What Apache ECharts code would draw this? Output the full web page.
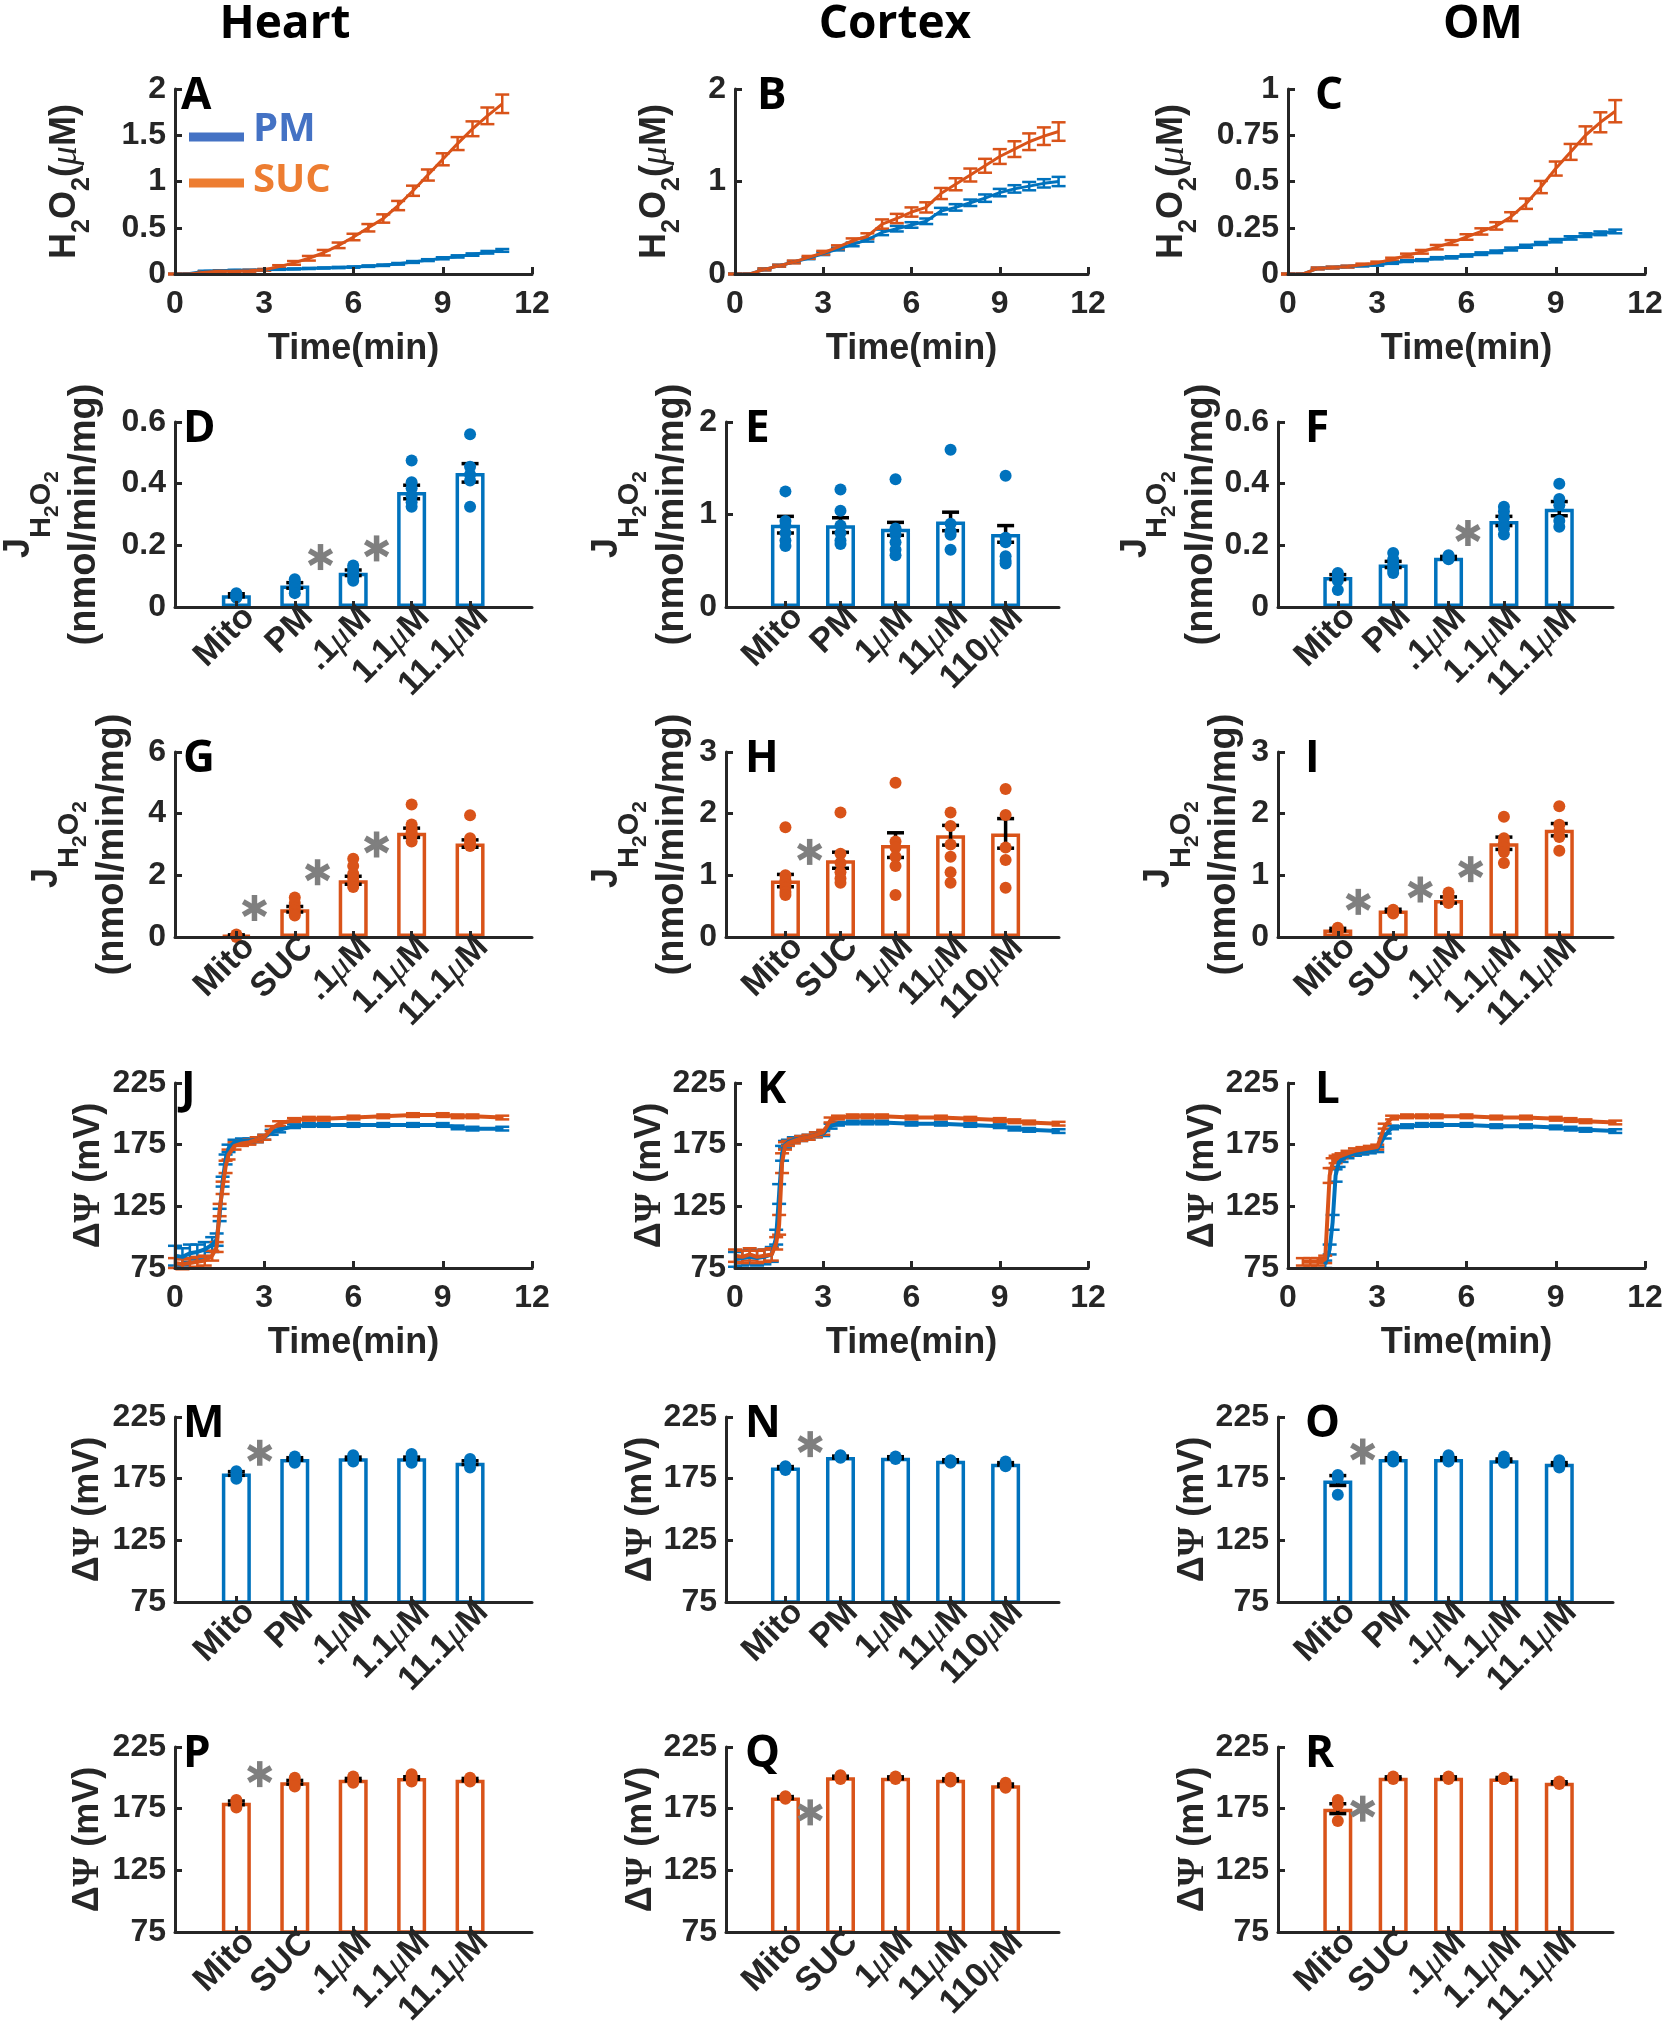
<!DOCTYPE html>
<html lang="en">
<head>
<meta charset="UTF-8" />
<title>H2O2 emission and membrane potential</title>
<style>
  html, body { margin: 0; padding: 0; background: #fff; }
  #main { width: 1667px; height: 2040px; }
</style>
</head>
<body>
<div id="main"></div>
<script src="https://cdn.jsdelivr.net/npm/echarts@6/dist/echarts.min.js"></script>
<script>
// ---------- H2O2 time courses (uM), every 0.5 min ----------
var tH2O2 = [0, 0.5, 1, 1.5, 2, 2.5, 3, 3.5, 4, 4.5, 5, 5.5, 6, 6.5, 7, 7.5, 8, 8.5, 9, 9.5, 10, 10.5, 11];

var heartPM = [0, 0.005, 0.03, 0.035, 0.04, 0.04, 0.045, 0.05, 0.055, 0.06, 0.065, 0.07, 0.075, 0.085, 0.095, 0.11, 0.13, 0.15, 0.17, 0.19, 0.21, 0.235, 0.255];
var heartPMsem = [0, 0.003, 0.005, 0.005, 0.005, 0.005, 0.005, 0.005, 0.005, 0.006, 0.006, 0.007, 0.007, 0.008, 0.008, 0.009, 0.01, 0.01, 0.011, 0.012, 0.013, 0.014, 0.015];
var heartSUC = [0, 0, 0.02, 0.03, 0.03, 0.035, 0.045, 0.08, 0.12, 0.17, 0.23, 0.31, 0.4, 0.5, 0.6, 0.74, 0.9, 1.07, 1.24, 1.41, 1.57, 1.71, 1.84];
var heartSUCsem = [0.005, 0.005, 0.01, 0.01, 0.01, 0.01, 0.01, 0.015, 0.02, 0.025, 0.03, 0.03, 0.035, 0.04, 0.045, 0.05, 0.055, 0.06, 0.065, 0.07, 0.08, 0.09, 0.1];

var cortexPM = [0, 0, 0.05, 0.09, 0.13, 0.17, 0.22, 0.27, 0.32, 0.37, 0.45, 0.49, 0.53, 0.57, 0.68, 0.72, 0.77, 0.82, 0.88, 0.92, 0.95, 0.98, 1.0];
var cortexPMsem = [0.005, 0.005, 0.01, 0.01, 0.01, 0.01, 0.015, 0.015, 0.02, 0.02, 0.03, 0.03, 0.03, 0.03, 0.035, 0.035, 0.035, 0.04, 0.04, 0.04, 0.045, 0.045, 0.05];
var cortexSUC = [0, 0, 0.05, 0.09, 0.13, 0.18, 0.23, 0.29, 0.36, 0.41, 0.54, 0.6, 0.67, 0.72, 0.87, 0.97, 1.07, 1.17, 1.27, 1.35, 1.43, 1.49, 1.54];
var cortexSUCsem = [0.005, 0.005, 0.01, 0.01, 0.015, 0.015, 0.02, 0.02, 0.025, 0.03, 0.05, 0.05, 0.05, 0.055, 0.06, 0.065, 0.07, 0.075, 0.08, 0.085, 0.09, 0.095, 0.1];

var omPM = [0, 0, 0.03, 0.035, 0.04, 0.045, 0.05, 0.06, 0.07, 0.075, 0.085, 0.09, 0.1, 0.11, 0.12, 0.135, 0.15, 0.165, 0.18, 0.195, 0.21, 0.22, 0.23];
var omPMsem = [0.002, 0.002, 0.004, 0.004, 0.004, 0.004, 0.005, 0.005, 0.005, 0.005, 0.006, 0.006, 0.006, 0.007, 0.007, 0.008, 0.008, 0.008, 0.009, 0.009, 0.01, 0.01, 0.01];
var omSUC = [0, 0, 0.03, 0.035, 0.04, 0.05, 0.06, 0.08, 0.1, 0.12, 0.145, 0.17, 0.2, 0.23, 0.26, 0.31, 0.38, 0.47, 0.57, 0.66, 0.75, 0.82, 0.88];
var omSUCsem = [0.003, 0.003, 0.005, 0.005, 0.005, 0.006, 0.007, 0.008, 0.01, 0.01, 0.012, 0.013, 0.015, 0.017, 0.02, 0.024, 0.028, 0.033, 0.038, 0.043, 0.048, 0.054, 0.06];

// ---------- membrane potential time courses (mV) ----------
var tPsi = [0, 0.25, 0.5, 0.75, 1, 1.25, 1.4, 1.5, 1.6, 1.7, 1.8, 2, 2.25, 2.5, 2.75, 3, 3.25, 3.5, 4, 4.5, 5, 6, 7, 8, 9, 9.5, 10, 11];

var psiHeartPM = [85, 84, 87, 88, 90, 94, 98, 118, 145, 163, 172, 177, 178, 178, 179, 181, 185, 187, 190, 191, 191, 191, 191, 191, 191, 189, 188, 188];
var psiHeartPMsem = [8, 7, 7, 6, 6, 6, 5, 5, 4, 4, 3, 2, 2, 2, 2, 2, 2, 2, 1.5, 1.5, 1.5, 1.5, 1.5, 1.5, 1.5, 1.5, 1.5, 1.5];
var psiHeartSUC = [79, 78, 79, 80, 81, 85, 92, 122, 140, 157, 167, 174, 176, 177, 179, 181, 188, 192, 195, 196, 196, 197, 198, 199, 199, 198, 198, 197];
var psiHeartSUCsem = [4, 4, 4, 4, 4, 4, 4, 5, 5, 5, 4, 3, 2, 2, 2, 2, 2, 2, 1.5, 1.5, 1.5, 1.5, 1.5, 1.5, 1.5, 1.5, 1.5, 1.5];

var psiCortexPM = [82, 83, 84, 83, 84, 86, 100, 135, 168, 175, 177, 179, 180, 181, 183, 184, 190, 192, 193, 193, 193, 192, 192, 191, 190, 188, 187, 186];
var psiCortexPMsem = [6, 6, 6, 6, 6, 6, 6, 8, 6, 3, 2, 2, 2, 2, 2, 2, 2, 1.5, 1.5, 1.5, 1.5, 1.5, 1.5, 1.5, 1.5, 1.5, 1.5, 1.5];
var psiCortexSUC = [85, 84, 86, 84, 85, 86, 95, 110, 160, 174, 176, 178, 180, 181, 183, 185, 195, 197, 198, 198, 198, 197, 197, 196, 195, 194, 193, 192];
var psiCortexSUCsem = [5, 5, 5, 5, 5, 5, 5, 8, 8, 3, 2, 2, 2, 2, 2, 2, 2, 1.5, 1.5, 1.5, 1.5, 1.5, 1.5, 1.5, 1.5, 1.5, 1.5, 1.5];

var psiOMPM = [null, null, null, null, null, 78, 90, 112, 150, 160, 163, 166, 168, 169, 170, 171, 182, 189, 190, 191, 191, 191, 190, 190, 189, 188, 187, 186];
var psiOMPMsem = [0, 0, 0, 0, 0, 3, 4, 6, 5, 3, 2, 2, 2, 2, 2, 2, 2, 1.5, 1.5, 1.5, 1.5, 1.5, 1.5, 1.5, 1.5, 1.5, 1.5, 1.5];
var psiOMSUC = [null, null, 80, 80, 80, 82, 150, 160, 163, 165, 166, 168, 170, 171, 172, 173, 190, 197, 198, 198, 198, 198, 197, 197, 196, 195, 194, 193];
var psiOMSUCsem = [0, 0, 3, 3, 3, 3, 6, 4, 3, 2, 2, 2, 2, 2, 2, 2, 2, 1.5, 1.5, 1.5, 1.5, 1.5, 1.5, 1.5, 1.5, 1.5, 1.5, 1.5];

// ---------- bar groups ----------
var labelsHeartPM = ['Mito', 'PM', '.1μM', '1.1μM', '11.1μM'];
var labelsCortexPM = ['Mito', 'PM', '1μM', '11μM', '110μM'];
var labelsHeartSUC = ['Mito', 'SUC', '.1μM', '1.1μM', '11.1μM'];
var labelsCortexSUC = ['Mito', 'SUC', '1μM', '11μM', '110μM'];

// D  heart, PM, JH2O2
var dMean = [0.038, 0.07, 0.111, 0.373, 0.435];
var dSem = [0.005, 0.009, 0.009, 0.022, 0.03];
var dDots = [[0.045, 0.04, 0.035, 0.03], [0.09, 0.08, 0.07, 0.06, 0.045], [0.135, 0.125, 0.115, 0.105, 0.095, 0.085], [0.475, 0.405, 0.385, 0.36, 0.34, 0.325], [0.56, 0.455, 0.43, 0.41, 0.325]];
var dStars = [[2.44, 0.162], [3.4, 0.19]];
// E  cortex, PM
var eMean = [0.89, 0.885, 0.845, 0.925, 0.79];
var eSem = [0.09, 0.08, 0.07, 0.1, 0.09];
var eDots = [[1.25, 0.93, 0.88, 0.8, 0.72, 0.66], [1.27, 1.04, 0.88, 0.8, 0.72, 0.68], [1.38, 0.85, 0.78, 0.7, 0.62, 0.56], [1.7, 0.9, 0.82, 0.78, 0.62], [1.42, 0.75, 0.7, 0.55, 0.5, 0.47]];
var eStars = [];
// F  OM, PM
var fMean = [0.097, 0.138, 0.16, 0.279, 0.319];
var fSem = [0.008, 0.01, 0.004, 0.015, 0.023];
var fDots = [[0.11, 0.105, 0.095, 0.085, 0.055], [0.175, 0.155, 0.14, 0.13, 0.12, 0.11], [0.168, 0.162, 0.158, 0.155], [0.325, 0.31, 0.29, 0.27, 0.255, 0.235], [0.4, 0.35, 0.33, 0.28, 0.26]];
var fStars = [[3.35, 0.24]];
// G  heart, SUC
var gMean = [0.05, 0.9, 1.84, 3.38, 3.03];
var gSem = [0.02, 0.09, 0.13, 0.15, 0.12];
var gDots = [[0.08, 0.04, 0.0], [1.28, 1.1, 0.95, 0.85, 0.75, 0.7], [2.54, 2.3, 2.05, 1.9, 1.75, 1.62], [4.3, 3.65, 3.5, 3.4, 3.3, 3.1], [3.95, 3.2, 3.1, 3.0, 2.95]];
var gStars = [[1.31, 0.94], [2.39, 2.1], [3.4, 3.0]];
// H  cortex, SUC
var hMean = [0.915, 1.245, 1.49, 1.65, 1.68];
var hSem = [0.1, 0.13, 0.2, 0.16, 0.24];
var hDots = [[1.78, 1.0, 0.92, 0.85, 0.8, 0.73, 0.68], [2.02, 1.35, 1.2, 1.05, 0.95, 0.88], [2.5, 1.55, 1.45, 1.3, 1.15, 0.68], [2.02, 1.8, 1.5, 1.3, 1.05, 0.88], [2.4, 1.98, 1.45, 1.25, 0.8]];
var hStars = [[1.44, 1.38]];
// I  OM, SUC
var iMean = [0.12, 0.43, 0.6, 1.52, 1.74];
var iSem = [0.02, 0.02, 0.05, 0.1, 0.1];
var iDots = [[0.15, 0.12, 0.08], [0.44, 0.4, 0.38], [0.72, 0.65, 0.58, 0.55], [1.95, 1.6, 1.52, 1.45, 1.38, 1.2], [2.12, 1.82, 1.72, 1.62, 1.4]];
var iStars = [[1.37, 0.57], [2.49, 0.77], [3.4, 1.1]];
// M  heart, PM, dPsi
var mMean = [179.2, 191, 191.5, 191.5, 188];
var mSem = [1.5, 1, 1, 1, 1.5];
var mDots = [[181, 178, 175], [193, 191, 188], [194, 192, 189], [195, 192, 188], [191, 188, 184]];
var mStars = [[1.4, 196]];
// N  cortex, PM
var nMean = [184, 192.5, 192, 189.5, 187];
var nSem = [0.8, 0.8, 0.8, 0.8, 1];
var nDots = [[185, 184, 182], [194, 193, 192], [193, 192, 191], [190, 189, 188], [189, 186, 185]];
var nStars = [[1.45, 203]];
// O  OM, PM
var oMean = [173.5, 191, 191, 190, 187];
var oSem = [4, 1, 1, 1, 1];
var oDots = [[178, 176, 162], [193, 191, 189], [194, 191, 189], [193, 190, 188], [190, 187, 184]];
var oStars = [[1.45, 197]];
// P  heart, SUC
var pMean = [179.7, 196.4, 198.5, 199.9, 198.5];
var pSem = [1.5, 1.5, 1, 1, 1];
var pDots = [[182, 180, 176], [200, 197, 193], [201, 198, 196], [203, 200, 197], [200, 198, 197]];
var pStars = [[1.4, 203]];
// Q  cortex, SUC
var qMean = [184, 200.5, 200, 198.5, 194];
var qSem = [0.8, 0.8, 0.8, 0.8, 1];
var qDots = [[185, 184, 183], [202, 200, 199], [201, 200, 199], [200, 198, 197], [196, 194, 192]];
var qStars = [[1.45, 172]];
// R  OM, SUC
var rMean = [175, 200, 200, 199.5, 196];
var rSem = [4, 0.8, 0.8, 0.8, 0.8];
var rDots = [[182, 178, 165], [201, 200, 199], [201, 200, 199], [200, 199, 199], [197, 196, 195]];
var rStars = [[1.45, 175]];

// ---------- look ----------
var INK = '#262626', BLUE = '#0072BD', ORANGE = '#D95319', STAR = '#7f7f7f';
var FONT = '"Liberation Sans", Arial, sans-serif';
var SERIF = '"Liberation Serif", "DejaVu Serif", serif';
var rowTop = [89, 422, 752, 1083, 1417, 1747], rowH = 185;
// time-course panels
var lineCols = [{left: 175, width: 357}, {left: 735, width: 353}, {left: 1288, width: 357}];
// bar panels (value x axis, bars at 1..5)
var barCols = [
  {left: 175, width: 357, min: -0.05, max: 6.06},
  {left: 726, width: 333, min: -0.08, max: 5.97},
  {left: 1278, width: 335, min: -0.08, max: 5.97}
];
var lineLetterX = [181, 757, 1315], barLetterX = [183, 745, 1305];

var panels = [
  {kind: 'line', letter: 'A', y: [0, 2, 0.5], name: 'h2o2', gap: 80, lines: [[tH2O2, heartPM, heartPMsem, BLUE], [tH2O2, heartSUC, heartSUCsem, ORANGE]]},
  {kind: 'line', letter: 'B', y: [0, 2, 1], name: 'h2o2', gap: 50, lines: [[tH2O2, cortexPM, cortexPMsem, BLUE], [tH2O2, cortexSUC, cortexSUCsem, ORANGE]]},
  {kind: 'line', letter: 'C', y: [0, 1, 0.25], name: 'h2o2', gap: 86, lines: [[tH2O2, omPM, omPMsem, BLUE], [tH2O2, omSUC, omSUCsem, ORANGE]]},
  {kind: 'bar', letter: 'D', y: [0, 0.6, 0.2], name: 'flux', gap: 68, labels: labelsHeartPM, mean: dMean, sem: dSem, dots: dDots, stars: dStars, color: BLUE},
  {kind: 'bar', letter: 'E', y: [0, 2, 1], name: 'flux', gap: 31, labels: labelsCortexPM, mean: eMean, sem: eSem, dots: eDots, stars: eStars, color: BLUE},
  {kind: 'bar', letter: 'F', y: [0, 0.6, 0.2], name: 'flux', gap: 48, labels: labelsHeartPM, mean: fMean, sem: fSem, dots: fDots, stars: fStars, color: BLUE},
  {kind: 'bar', letter: 'G', y: [0, 6, 2], name: 'flux', gap: 40, labels: labelsHeartSUC, mean: gMean, sem: gSem, dots: gDots, stars: gStars, color: ORANGE},
  {kind: 'bar', letter: 'H', y: [0, 3, 1], name: 'flux', gap: 31, labels: labelsCortexSUC, mean: hMean, sem: hSem, dots: hDots, stars: hStars, color: ORANGE},
  {kind: 'bar', letter: 'I', y: [0, 3, 1], name: 'flux', gap: 31, labels: labelsHeartSUC, mean: iMean, sem: iSem, dots: iDots, stars: iStars, color: ORANGE},
  {kind: 'line', letter: 'J', y: 'psi', name: 'psi', gap: 65, lines: [[tPsi, psiHeartPM, psiHeartPMsem, BLUE], [tPsi, psiHeartSUC, psiHeartSUCsem, ORANGE]]},
  {kind: 'line', letter: 'K', y: 'psi', name: 'psi', gap: 62, lines: [[tPsi, psiCortexPM, psiCortexPMsem, BLUE], [tPsi, psiCortexSUC, psiCortexSUCsem, ORANGE]]},
  {kind: 'line', letter: 'L', y: 'psi', name: 'psi', gap: 63, lines: [[tPsi, psiOMPM, psiOMPMsem, BLUE], [tPsi, psiOMSUC, psiOMSUCsem, ORANGE]]},
  {kind: 'bar', letter: 'M', y: 'psi', name: 'psi', gap: 66, labels: labelsHeartPM, mean: mMean, sem: mSem, dots: mDots, stars: mStars, color: BLUE},
  {kind: 'bar', letter: 'N', y: 'psi', name: 'psi', gap: 60, labels: labelsCortexPM, mean: nMean, sem: nSem, dots: nDots, stars: nStars, color: BLUE},
  {kind: 'bar', letter: 'O', y: 'psi', name: 'psi', gap: 60, labels: labelsHeartPM, mean: oMean, sem: oSem, dots: oDots, stars: oStars, color: BLUE},
  {kind: 'bar', letter: 'P', y: 'psi', name: 'psi', gap: 66, labels: labelsHeartSUC, mean: pMean, sem: pSem, dots: pDots, stars: pStars, color: ORANGE},
  {kind: 'bar', letter: 'Q', y: 'psi', name: 'psi', gap: 60, labels: labelsCortexSUC, mean: qMean, sem: qSem, dots: qDots, stars: qStars, color: ORANGE},
  {kind: 'bar', letter: 'R', y: 'psi', name: 'psi', gap: 60, labels: labelsHeartSUC, mean: rMean, sem: rSem, dots: rDots, stars: rStars, color: ORANGE}
];

var psiTicks = [75, 125, 175, 225];
var catTicks = [1, 2, 3, 4, 5];
var catLabelAt = [1.22, 2.22, 3.22, 4.22, 5.22];

function bold(size, extra) {
  var s = {fontSize: size, fontWeight: 'bold', fontFamily: FONT, color: INK};
  for (var k in extra) s[k] = extra[k];
  return s;
}

var yNames = {
  h2o2: {
    text: '{a|H}{s|2}{a|O}{s|2}{a|(}{m|μ}{a|M)}',
    rich: {
      a: bold(36, {lineHeight: 48, verticalAlign: 'top'}),
      s: bold(25, {verticalAlign: 'bottom'}),
      m: {fontSize: 38, fontStyle: 'italic', fontFamily: SERIF, color: INK, verticalAlign: 'top'}
    }
  },
  flux: {
    text: '{j|J}{s|H}{ss|2}{s|O}{ss|2}\n{p|(nmol/min/mg)}',
    rich: {
      j: bold(36, {lineHeight: 62, verticalAlign: 'top'}),
      s: bold(29, {verticalAlign: 'bottom', padding: [0, 0, 7, 0]}),
      ss: bold(21, {verticalAlign: 'bottom'}),
      p: bold(38, {lineHeight: 44})
    }
  },
  psi: {
    text: '{a|Δ}{g|Ψ}{a| (mV)}',
    rich: {
      a: bold(36, {lineHeight: 42}),
      g: {fontSize: 38, fontWeight: 'bold', fontFamily: SERIF, color: INK, lineHeight: 42}
    }
  }
};

function catLabel(str) {
  var parts = str.split('μ');
  if (parts.length < 2) return '{n|' + str + '}';
  return (parts[0] ? '{n|' + parts[0] + '}' : '') + '{m|μ}{n|' + parts[1] + '}';
}

function errRender(capW, lw, color) {
  return function (params, api) {
    var x = api.value(0), m = api.value(1), e = api.value(2);
    var top = api.coord([x, m + e]), bot = api.coord([x, m - e]);
    var st = {stroke: color, lineWidth: lw};
    return {
      type: 'group',
      children: [
        {type: 'line', shape: {x1: top[0], y1: top[1], x2: bot[0], y2: bot[1]}, style: st},
        {type: 'line', shape: {x1: top[0] - capW / 2, y1: top[1], x2: top[0] + capW / 2, y2: top[1]}, style: st},
        {type: 'line', shape: {x1: bot[0] - capW / 2, y1: bot[1], x2: bot[0] + capW / 2, y2: bot[1]}, style: st}
      ]
    };
  };
}

function starRender(params, api) {
  var c = api.coord([api.value(0), api.value(1)]);
  var r = 13, kids = [];
  [90, 30, 150].forEach(function (a) {
    var rad = a * Math.PI / 180, dx = r * Math.cos(rad), dy = r * Math.sin(rad);
    kids.push({type: 'line', shape: {x1: c[0] - dx, y1: c[1] - dy, x2: c[0] + dx, y2: c[1] + dy},
      style: {stroke: STAR, lineWidth: 5.5}});
  });
  return {type: 'group', children: kids};
}

var grids = [], xAxes = [], yAxes = [], series = [], graphics = [];

panels.forEach(function (p, i) {
  var row = Math.floor(i / 3), col = i % 3;
  var isLine = p.kind === 'line';
  var box = isLine ? lineCols[col] : barCols[col];
  grids.push({left: box.left, top: rowTop[row], width: box.width, height: rowH, outerBoundsMode: 'none'});

  var axisLine = {show: true, onZero: false, lineStyle: {color: INK, width: 3}};
  var tick = {show: true, inside: true, length: 7, lineStyle: {color: INK, width: 3}};

  // y axis
  var ya = {
    type: 'value', gridIndex: i, z: 5,
    axisLine: axisLine, splitLine: {show: false},
    axisTick: JSON.parse(JSON.stringify(tick)),
    axisLabel: bold(32, {margin: 9}),
    name: yNames[p.name].text, nameLocation: 'middle', nameGap: p.gap, nameRotate: 90,
    nameTextStyle: {rich: yNames[p.name].rich}
  };
  if (p.y === 'psi') {
    ya.min = 75; ya.max = 225;
    ya.axisLabel.customValues = psiTicks;
    ya.axisTick.customValues = psiTicks;
  } else {
    ya.min = p.y[0]; ya.max = p.y[1]; ya.interval = p.y[2];
  }
  yAxes.push(ya);

  // x axis
  if (isLine) {
    xAxes.push({
      type: 'value', gridIndex: i, min: 0, max: 12, interval: 3, z: 5,
      axisLine: axisLine, splitLine: {show: false}, axisTick: tick,
      axisLabel: bold(32, {margin: 14, showMaxLabel: true}),
      name: 'Time(min)', nameLocation: 'middle', nameGap: 57,
      nameTextStyle: bold(36)
    });
  } else {
    var labs = p.labels;
    xAxes.push({
      type: 'value', gridIndex: i, min: box.min, max: box.max, z: 5,
      axisLine: axisLine, splitLine: {show: false},
      axisTick: {show: true, inside: true, length: 6, lineStyle: {color: INK, width: 3}, customValues: catTicks},
      axisLabel: {
        customValues: catLabelAt, rotate: 45, margin: 5,
        formatter: function (v) { var s = labs[Math.round(v) - 1]; return s ? catLabel(s) : ''; },
        rich: {
          n: bold(34),
          m: {fontSize: 36, fontStyle: 'italic', fontFamily: SERIF, color: INK}
        }
      }
    });
  }

  // marks
  if (isLine) {
    p.lines.forEach(function (ln) {
      var t = ln[0], v = ln[1], e = ln[2], c = ln[3];
      var pts = [], errs = [];
      t.forEach(function (tt, k) {
        if (v[k] === null) return;
        pts.push([tt, v[k]]);
        errs.push([tt, v[k], e[k]]);
      });
      series.push({
        type: 'line', xAxisIndex: i, yAxisIndex: i, data: pts, showSymbol: false, silent: true,
        lineStyle: {color: c, width: p.y === 'psi' ? 4 : 3}, itemStyle: {color: c}, z: 2
      });
      series.push({
        type: 'custom', xAxisIndex: i, yAxisIndex: i, data: errs, silent: true, z: 2,
        encode: {x: 0, y: 1}, renderItem: errRender(14, 2.5, c)
      });
    });
  } else {
    series.push({
      type: 'bar', xAxisIndex: i, yAxisIndex: i, barWidth: 29, silent: true, z: 2,
      data: p.mean.map(function (m, k) { return [k + 1, m]; }),
      itemStyle: {color: '#fff', borderColor: p.color, borderWidth: 3.5}
    });
    series.push({
      type: 'custom', xAxisIndex: i, yAxisIndex: i, silent: true, z: 3,
      data: p.mean.map(function (m, k) { return [k + 1, m, p.sem[k]]; }),
      encode: {x: 0, y: 1}, renderItem: errRender(17, 3.5, '#000')
    });
    var dots = [];
    p.dots.forEach(function (grp, k) { grp.forEach(function (v) { dots.push([k + 1, v]); }); });
    series.push({
      type: 'scatter', xAxisIndex: i, yAxisIndex: i, data: dots, symbolSize: 12, silent: true, z: 4,
      itemStyle: {color: p.color, opacity: 1}
    });
    if (p.stars.length) {
      series.push({
        type: 'custom', xAxisIndex: i, yAxisIndex: i, data: p.stars, silent: true, z: 4,
        encode: {x: 0, y: 1}, renderItem: starRender
      });
    }
  }

  // panel letter
  graphics.push({
    type: 'text', z: 100,
    style: {text: p.letter, x: isLine ? lineLetterX[col] : barLetterX[col], y: rowTop[row] + 7, fill: '#000',
      fontSize: 44, fontWeight: 'bold', fontFamily: '"Open Sans", sans-serif',
      align: 'left', verticalAlign: 'middle'}
  });
});

// column titles
[['Heart', 285], ['Cortex', 895], ['OM', 1483]].forEach(function (tt) {
  graphics.push({
    type: 'text', z: 100,
    style: {text: tt[0], x: tt[1], y: 25, fill: '#000', fontSize: 46, fontWeight: 'bold',
      fontFamily: '"Open Sans", sans-serif', align: 'center', verticalAlign: 'middle'}
  });
});

// legend of panel A
[['PM', '#4472C4', 137, 130], ['SUC', '#ED7D31', 183, 181]].forEach(function (lg) {
  graphics.push({type: 'line', z: 100, shape: {x1: 189, y1: lg[2], x2: 244, y2: lg[2]},
    style: {stroke: lg[1], lineWidth: 9}});
  graphics.push({type: 'text', z: 100,
    style: {text: lg[0], x: 253, y: lg[3], fill: lg[1], fontSize: 40, fontWeight: 'bold',
      fontFamily: '"Open Sans", sans-serif', align: 'left', verticalAlign: 'middle'}});
});

var chart = echarts.init(document.getElementById('main'));
chart.setOption({
  animation: false,
  backgroundColor: '#fff',
  grid: grids,
  xAxis: xAxes,
  yAxis: yAxes,
  series: series,
  graphic: graphics
});
</script>
</body>
</html>
